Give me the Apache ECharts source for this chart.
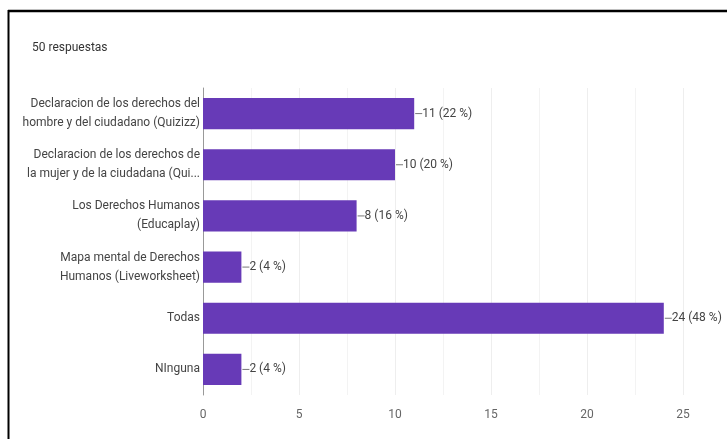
<!DOCTYPE html>
<html><head><meta charset="utf-8">
<script src="https://cdn.jsdelivr.net/npm/echarts@6/dist/echarts.min.js"></script>
<style>html,body{margin:0;padding:0;background:#fff}#c{width:727px;height:439px}</style>
</head><body><div id="c"></div>
<script>
const categories = [
  'Declaracion de los derechos del\nhombre y del ciudadano (Quizizz)',
  'Declaracion de los derechos de\nla mujer y de la ciudadana (Qui...',
  'Los Derechos Humanos\n(Educaplay)',
  'Mapa mental de Derechos\nHumanos (Liveworksheet)',
  'Todas',
  'NInguna'
];
const counts = [11, 10, 8, 2, 24, 2];
const percents = [22, 20, 16, 4, 48, 4];
const titleText = '50 respuestas';

const chart = echarts.init(document.getElementById('c'));
chart.setOption({
  animation: false,
  title: { text: titleText, left: 27, top: 37, textStyle: { fontFamily: 'Roboto', fontSize: 12, fontWeight: 'normal', color: '#333' } },
  grid: { left: 203, right: 44, top: 88, bottom: 44, containLabel: false },
  xAxis: {
    type: 'value', min: 0, max: 25, interval: 5,
    axisLine: { show: false }, axisTick: { show: false },
    axisLabel: { color: '#666', fontFamily: 'Roboto', fontSize: 12, margin: 14 },
    splitLine: { show: true, lineStyle: { color: '#eeeeee' } },
    minorTick: { show: false, splitNumber: 2 },
    minorSplitLine: { show: true, lineStyle: { color: '#f3f3f3' } }
  },
  yAxis: {
    type: 'category', data: categories, inverse: true,
    axisLine: { show: true, lineStyle: { color: '#999', width: 1 } },
    axisTick: { show: false },
    axisLabel: { color: '#444', fontFamily: 'Roboto', fontSize: 12, lineHeight: 19, margin: 3, align: 'right' }
  },
  series: [{
    type: 'bar',
    data: counts,
    barCategoryGap: '39%',
    itemStyle: { color: '#673AB7' },
    label: {
      show: true, position: 'right', distance: 1,
      formatter: p => '{d|}' + p.value + ' (' + percents[p.dataIndex] + ' %)',
      color: '#444', fontFamily: 'Roboto', fontSize: 12,
      rich: { d: { width: 7, height: 1, backgroundColor: '#777', padding: 0 } }
    }
  }],
  graphic: [
    { type: 'line', shape: { x1: 8, y1: 11, x2: 727, y2: 11 }, style: { stroke: '#000', lineWidth: 2.5 } },
    { type: 'line', shape: { x1: 8.5, y1: 10, x2: 8.5, y2: 439 }, style: { stroke: '#000', lineWidth: 2 } }
  ]
});
</script></body></html>
